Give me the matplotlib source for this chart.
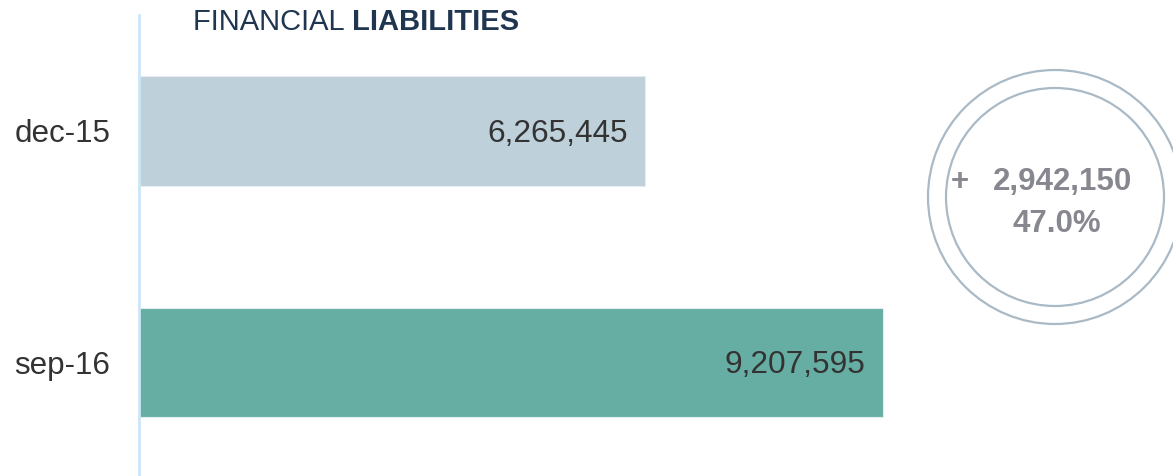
import matplotlib
matplotlib.use("Agg")
import matplotlib.pyplot as plt
from matplotlib.patches import Circle

plt.rcParams['font.family'] = ['Liberation Sans', 'DejaVu Sans']

# data
periods = ['dec-15', 'sep-16']
values = [6265445, 9207595]
bar_colors = ['#bed0da', '#66ada3']

change = values[1] - values[0]
change_pct = change / values[0] * 100

W, H = 1173, 476
fig = plt.figure(figsize=(W / 100, H / 100), dpi=100)

# main bar axes
ax = fig.add_axes([139 / W, 0, 1 - 139 / W, 461 / H])
ypos = list(range(len(periods)))
ax.barh(ypos, values, height=0.474, color=bar_colors, edgecolor='#e4eef2', linewidth=0.8)
ax.set_xlim(0, 12.8e6)
ax.set_ylim(1.49, -0.5)
ax.set_yticks(ypos)
ax.set_yticklabels(periods, fontsize=22.6, color='#333333')
ax.tick_params(axis='y', length=0, pad=20.5)
ax.set_xticks([])
for side in ['top', 'right', 'bottom']:
    ax.spines[side].set_visible(False)
ax.spines['left'].set_color('#cce6f8')
ax.spines['left'].set_linewidth(2)

for y, v in zip(ypos, values):
    ax.annotate(f'{v:,}', xy=(v, y), xytext=(-12.5, -2), textcoords='offset points',
                ha='right', va='center', fontsize=22.8, color='#333333')

# title
t1 = fig.text(193 / W, 1 - 30 / H, 'FINANCIAL ', fontsize=21, color='#1f3550', va='baseline')
ax.annotate('LIABILITIES', xy=(1, 0), xycoords=t1, va='bottom', ha='left',
            fontsize=21, fontweight='bold', color='#1f3550', annotation_clip=False)

# change circle
cx, cy, r = 1055, 476 - 197, 128
cax = fig.add_axes([(cx - r) / W, (cy - r) / H, 2 * r / W, 2 * r / H])
cax.set_xlim(-r, r)
cax.set_ylim(-r, r)
cax.axis('off')
cax.add_patch(Circle((0, 0), 127, fill=False, edgecolor='#a9bac6', linewidth=1.6, clip_on=False))
cax.add_patch(Circle((0, 0), 109, fill=False, edgecolor='#a9bac6', linewidth=1.6, clip_on=False))
cax.text(-95, 15, '+', ha='center', va='center', fontsize=22.5, fontweight='bold', color='#87878f')
cax.text(7, 15, f'{change:,}', ha='center', va='center', fontsize=22.5, fontweight='bold', color='#87878f')
cax.text(2, -27, f'{change_pct:.1f}%', ha='center', va='center', fontsize=22.5, fontweight='bold', color='#87878f')

fig.savefig('out.png', dpi=100)
